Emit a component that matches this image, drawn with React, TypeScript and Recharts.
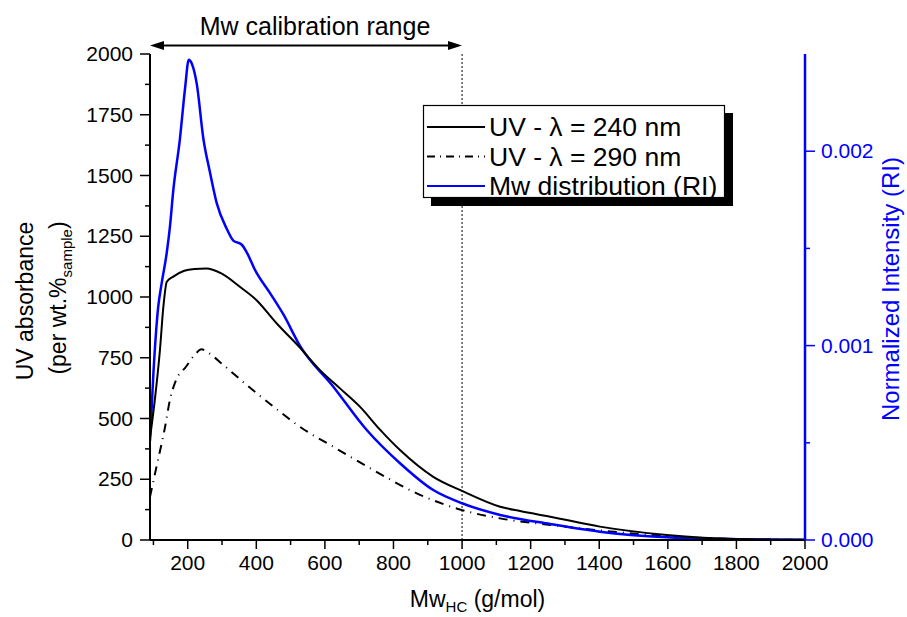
import React from 'react';
import { LineChart, Line, XAxis, YAxis, ReferenceLine } from 'recharts';

const FONT = '"Liberation Sans", Arial, Helvetica, sans-serif';
const BLUE = '#0000ff';

// UV absorbance at 240 nm (left axis)
const uv240X = [90, 104, 119, 129, 139, 158, 190, 220, 254, 298, 352, 400, 459, 527, 585, 644, 702, 760, 819, 916, 1000, 1111, 1169, 1257, 1402, 1597, 1801, 2000];
const uv240Y = [420, 576, 782, 960, 1063, 1084, 1108, 1115, 1117, 1097, 1042, 988, 892, 792, 700, 624, 549, 455, 370, 260, 202, 137, 119, 96, 55, 21, 4, 1];

// UV absorbance at 290 nm (left axis)
const uv290X = [90, 109, 134, 148, 166, 195, 220, 240, 255, 304, 372, 450, 527, 624, 741, 868, 1000, 1111, 1257, 1392, 1597, 1800, 2000];
const uv290Y = [178, 302, 466, 576, 658, 713, 761, 785, 775, 720, 638, 549, 466, 384, 288, 192, 123, 89, 62, 41, 16, 4, 1];

// Mw distribution (RI), normalized intensity (right axis)
const riX = [90, 100, 114, 124, 139, 148, 158, 177, 192, 203, 212, 226, 246, 265, 285, 314, 333, 357, 372, 396, 440, 479, 527, 624, 722, 819, 916, 1000, 1111, 1257, 1402, 1597, 1800, 2000];
const riY = [0.00051, 0.00086, 0.0012, 0.00132, 0.00148, 0.00161, 0.0018, 0.00206, 0.00232, 0.00247, 0.00245, 0.00235, 0.00206, 0.00189, 0.00173, 0.0016, 0.00154, 0.00152, 0.00148, 0.00139, 0.00127, 0.00116, 0.001, 0.00079, 0.000566, 0.000395, 0.000257, 0.000189, 0.000129, 0.000082, 0.000043, 0.000014, 0.000004, 0.000001];

// Axis ticks
const xTicks = [100, 200, 300, 400, 500, 600, 700, 800, 900, 1000, 1100, 1200, 1300, 1400, 1500, 1600, 1700, 1800, 1900, 2000];
const leftTicks = [0, 125, 250, 375, 500, 625, 750, 875, 1000, 1125, 1250, 1375, 1500, 1625, 1750, 1875, 2000];
const rightTicks = [0, 0.0005, 0.001, 0.0015, 0.002];

const legendItems = [
  { label: 'UV - λ = 240 nm', color: '#000', dash: undefined as string | undefined },
  { label: 'UV - λ = 290 nm', color: '#000', dash: '8 5 1 5' },
  { label: 'Mw distribution (RI)', color: BLUE, dash: undefined as string | undefined },
];

const uv240Data = uv240X.map((x, i) => ({ x, y: uv240Y[i] }));
const uv290Data = uv290X.map((x, i) => ({ x, y: uv290Y[i] }));
const riData = riX.map((x, i) => ({ x, y: riY[i] }));

const BottomTick = (props: any) => {
  const { x, y, payload } = props;
  const major = payload.value % 200 === 0;
  return (
    <g>
      <line x1={x} x2={x} y1={y} y2={y + (major ? 9 : 5)} stroke="#000" strokeWidth={1.5} />
      {major && (
        <text x={x} y={y + 30} textAnchor="middle" fontSize={21} fontFamily={FONT} fill="#000">
          {payload.value}
        </text>
      )}
    </g>
  );
};

const TopTick = (props: any) => {
  const { x, y, payload } = props;
  const major = payload.value % 200 === 0;
  return <line x1={x} x2={x} y1={y} y2={y + (major ? 8 : 4)} stroke={BLUE} strokeWidth={1.5} />;
};

const LeftTick = (props: any) => {
  const { x, y, payload } = props;
  const major = payload.value % 250 === 0;
  return (
    <g>
      <line x1={x - (major ? 10 : 5)} x2={x} y1={y} y2={y} stroke="#000" strokeWidth={1.5} />
      {major && (
        <text x={x - 17} y={y + 7} textAnchor="end" fontSize={21} fontFamily={FONT} fill="#000">
          {payload.value}
        </text>
      )}
    </g>
  );
};

const RightTick = (props: any) => {
  const { x, y, payload } = props;
  const k = Math.round(payload.value * 10000);
  const major = k % 10 === 0;
  return (
    <g>
      <line x1={x} x2={x + (major ? 10 : 5)} y1={y} y2={y} stroke={BLUE} strokeWidth={1.5} />
      {major && (
        <text x={x + 16} y={y + 7} textAnchor="start" fontSize={21} fontFamily={FONT} fill={BLUE}>
          {(k / 10000).toFixed(3)}
        </text>
      )}
    </g>
  );
};

const XTitle = (props: any) => {
  const vb = props.viewBox || { x: 150, width: 655, y: 540 };
  const cx = vb.x + vb.width / 2;
  return (
    <text x={cx} y={vb.y + 67} textAnchor="middle" fontSize={23} fontFamily={FONT} fill="#000">
      Mw
      <tspan fontSize={15} dy={5}>HC</tspan>
      <tspan dy={-5}> (g/mol)</tspan>
    </text>
  );
};

const LeftTitle = () => (
  <g fontFamily={FONT} fill="#000">
    <text x={33} y={301} transform="rotate(-90, 33, 301)" textAnchor="middle" fontSize={23}>
      UV absorbance
    </text>
    <text x={66} y={298} transform="rotate(-90, 66, 298)" textAnchor="middle" fontSize={23}>
      (per wt.%
      <tspan fontSize={15} dy={6}>sample</tspan>
      <tspan dy={-6}>)</tspan>
    </text>
  </g>
);

const RightTitle = () => (
  <text x={899} y={289} transform="rotate(-90, 899, 289)" textAnchor="middle" fontSize={24} fontFamily={FONT} fill={BLUE}>
    Normalized Intensity (RI)
  </text>
);

const Overlay = () => (
  <svg width={907} height={617} style={{ position: 'absolute', left: 0, top: 0, pointerEvents: 'none' }}>
    <text x={315} y={35} textAnchor="middle" fontSize={25} fontFamily={FONT} fill="#000">
      Mw calibration range
    </text>
    <line x1={160} x2={452} y1={45.5} y2={45.5} stroke="#000" strokeWidth={2} />
    <polygon points="150,45.5 164,41 164,50" fill="#000" />
    <polygon points="462,45.5 448,41 448,50" fill="#000" />
    <rect x={431} y={113} width={302} height={93} fill="#000" />
    <rect x={423.5} y={105.5} width={301} height={92} fill="#fff" stroke="#000" strokeWidth={1.2} />
    {legendItems.map((it, i) => (
      <g key={it.label}>
        <line
          x1={427}
          x2={485}
          y1={127 + i * 29.5}
          y2={127 + i * 29.5}
          stroke={it.color}
          strokeWidth={2}
          strokeDasharray={it.dash}
        />
        <text x={489} y={136 + i * 29.5} fontSize={26.5} fontFamily={FONT} fill="#000">
          {it.label}
        </text>
      </g>
    ))}
    <LeftTitle />
    <RightTitle />
  </svg>
);

export default function App() {
  return (
    <div style={{ position: 'absolute', left: 0, top: 0, width: 907, height: 617, background: '#fff' }}>
      <LineChart width={907} height={617} margin={{ top: 54, right: 0, bottom: 0, left: 0 }}>
        <XAxis
          xAxisId="bottom"
          dataKey="x"
          type="number"
          domain={[90, 2000]}
          allowDataOverflow
          ticks={xTicks}
          interval={0}
          height={77}
          tickSize={0}
          tickMargin={0}
          tickLine={false}
          axisLine={{ stroke: '#000', strokeWidth: 2 }}
          tick={<BottomTick />}
          label={<XTitle />}
        />
        <XAxis
          xAxisId="top"
          orientation="top"
          dataKey="x"
          type="number"
          domain={[90, 2000]}
          allowDataOverflow
          ticks={xTicks}
          interval={0}
          height={0}
          tickSize={0}
          tickMargin={0}
          tickLine={false}
          axisLine={{ stroke: BLUE, strokeWidth: 2 }}
          tick={<TopTick />}
        />
        <YAxis
          yAxisId="left"
          type="number"
          domain={[0, 2000]}
          allowDataOverflow
          ticks={leftTicks}
          interval={0}
          width={150}
          tickSize={0}
          tickMargin={0}
          tickLine={false}
          axisLine={{ stroke: '#000', strokeWidth: 2 }}
          tick={<LeftTick />}
        />
        <YAxis
          yAxisId="right"
          orientation="right"
          type="number"
          domain={[0, 0.0025]}
          allowDataOverflow
          ticks={rightTicks}
          interval={0}
          width={102}
          tickSize={0}
          tickMargin={0}
          tickLine={false}
          axisLine={{ stroke: BLUE, strokeWidth: 2.5 }}
          tick={<RightTick />}
        />
        <ReferenceLine x={1000} xAxisId="bottom" yAxisId="left" stroke="#000" strokeWidth={1} strokeDasharray="2 2" />
        <Line
          data={uv290Data}
          dataKey="y"
          xAxisId="bottom"
          yAxisId="left"
          type="monotone"
          dot={false}
          stroke="#000"
          strokeWidth={2}
          strokeDasharray="9 6 1 6"
          isAnimationActive={false}
        />
        <Line
          data={riData}
          dataKey="y"
          xAxisId="bottom"
          yAxisId="right"
          type="monotone"
          dot={false}
          stroke={BLUE}
          strokeWidth={2.5}
          isAnimationActive={false}
        />
        <Line
          data={uv240Data}
          dataKey="y"
          xAxisId="bottom"
          yAxisId="left"
          type="monotone"
          dot={false}
          stroke="#000"
          strokeWidth={2}
          isAnimationActive={false}
        />
      </LineChart>
      <Overlay />
    </div>
  );
}
